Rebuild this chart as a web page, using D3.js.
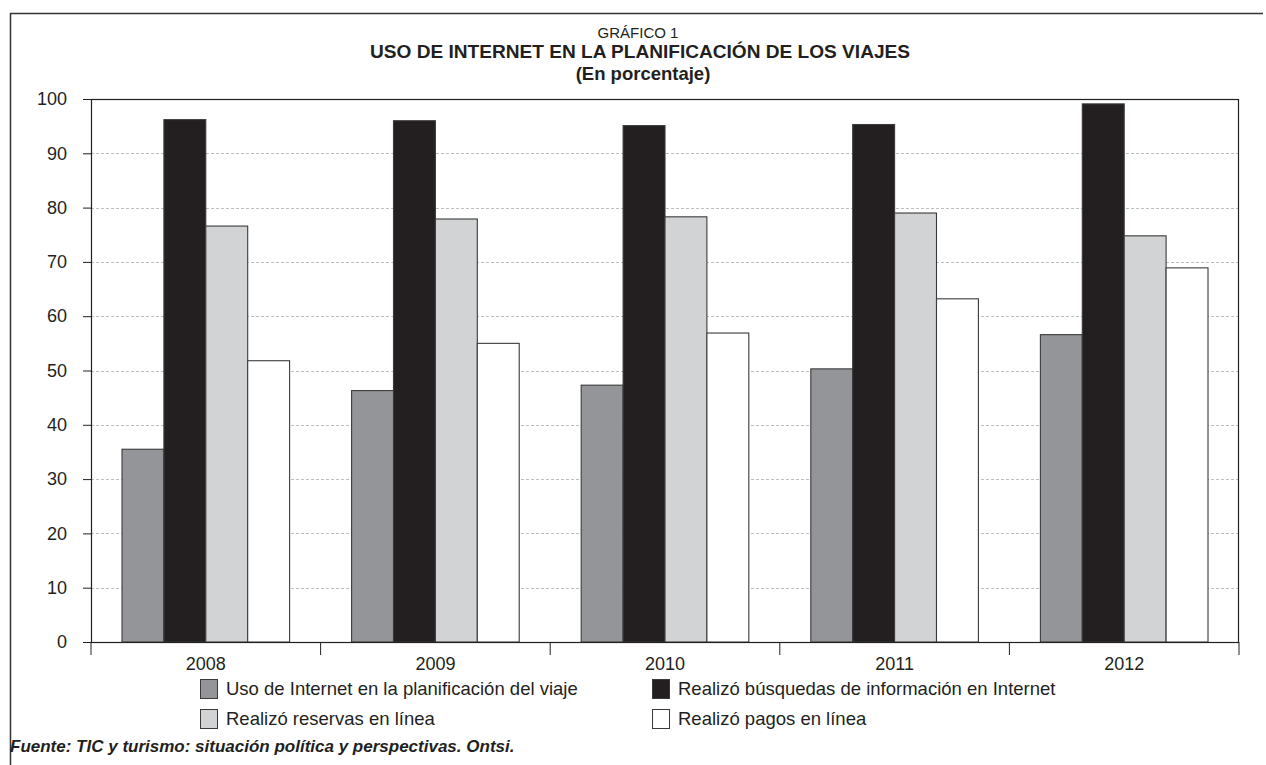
<!DOCTYPE html>
<html>
<head>
<meta charset="utf-8">
<script src="https://cdn.jsdelivr.net/npm/d3@7"></script>
<style>
  body { margin: 0; background: #fff; }
  svg { display: block; font-family: "Liberation Sans", Arial, sans-serif; }
</style>
</head>
<body>
<svg id="chart" width="1266" height="765"></svg>
<script>
const years = ['2008', '2009', '2010', '2011', '2012'];
const seriesNames = [
  'Uso de Internet en la planificación del viaje',
  'Realizó búsquedas de información en Internet',
  'Realizó reservas en línea',
  'Realizó pagos en línea'
];
const usoInternet = [35.5, 46.3, 47.3, 50.3, 56.6];
const busquedas = [96.2, 96.0, 95.1, 95.3, 99.1];
const reservas = [76.6, 77.9, 78.3, 79.0, 74.8];
const pagos = [51.8, 55.0, 56.9, 63.2, 68.9];
const yTicks = [0, 10, 20, 30, 40, 50, 60, 70, 80, 90, 100];
const fills = ['#939598', '#231f20', '#d1d3d4', '#ffffff'];

const allSeries = [usoInternet, busquedas, reservas, pagos];
const textColor = '#231f20';

const svg = d3.select('#chart');
const margin = { top: 99, left: 91, right: 1239, bottom: 642 };

// frame
svg.append('path')
  .attr('d', 'M10.5,765 V13.5 H1263')
  .attr('fill', 'none')
  .attr('stroke', '#333')
  .attr('stroke-width', 1.5);

// titles
svg.append('text').attr('x', 638).attr('y', 37.5).attr('text-anchor', 'middle')
  .attr('font-size', 15).attr('fill', textColor).text('GRÁFICO 1');
svg.append('text').attr('x', 640).attr('y', 58).attr('text-anchor', 'middle')
  .attr('font-size', 18).attr('font-weight', 'bold').attr('fill', textColor)
  .attr('textLength', 540).attr('lengthAdjust', 'spacingAndGlyphs')
  .text('USO DE INTERNET EN LA PLANIFICACIÓN DE LOS VIAJES');
svg.append('text').attr('x', 643).attr('y', 80).attr('text-anchor', 'middle')
  .attr('font-size', 18.5).attr('font-weight', 'bold').attr('fill', textColor)
  .text('(En porcentaje)');

const x = d3.scaleBand()
  .domain(years)
  .range([margin.left, margin.right])
  .paddingInner(0)
  .paddingOuter(0);
const xInner = d3.scaleBand()
  .domain(d3.range(allSeries.length))
  .range([x.bandwidth() * 0.135, x.bandwidth() * 0.865]);
const y = d3.scaleLinear().domain([0, 100]).range([margin.bottom, margin.top]);

// gridlines
svg.append('g')
  .selectAll('line')
  .data(yTicks.filter(d => d > 0 && d < 100))
  .join('line')
  .attr('x1', margin.left).attr('x2', margin.right)
  .attr('y1', d => Math.round(y(d)) + 0.5).attr('y2', d => Math.round(y(d)) + 0.5)
  .attr('stroke', '#bcbec0')
  .attr('stroke-width', 1)
  .attr('stroke-dasharray', '3,2');

// plot border
svg.append('rect')
  .attr('x', margin.left + 0.5).attr('y', margin.top + 0.5)
  .attr('width', margin.right - margin.left - 1).attr('height', margin.bottom - margin.top)
  .attr('fill', 'none').attr('stroke', '#231f20').attr('stroke-width', 1.2);

// bars
const groups = svg.append('g')
  .selectAll('g')
  .data(years)
  .join('g')
  .attr('transform', d => `translate(${x(d)},0)`);

groups.selectAll('rect')
  .data((d, i) => allSeries.map((s, k) => ({ k, v: s[i] })))
  .join('rect')
  .attr('x', d => xInner(d.k))
  .attr('y', d => y(d.v))
  .attr('width', xInner.bandwidth())
  .attr('height', d => y(0) - y(d.v))
  .attr('fill', d => fills[d.k])
  .attr('stroke', '#3a3a3a')
  .attr('stroke-width', 1.1);

// y axis
const yAxis = svg.append('g')
  .attr('transform', `translate(${margin.left},0)`)
  .call(d3.axisLeft(y).tickValues(yTicks).tickSize(8).tickPadding(16));
yAxis.select('.domain').attr('stroke', '#231f20');
yAxis.selectAll('.tick line').attr('stroke', '#231f20');
yAxis.selectAll('.tick text').attr('font-size', 18).attr('fill', textColor)
  .attr('font-family', '"Liberation Sans", Arial, sans-serif');

// x axis: ticks at band boundaries
const xAxis = svg.append('g')
  .attr('transform', `translate(0,${margin.bottom})`);
xAxis.append('line')
  .attr('x1', margin.left).attr('x2', margin.right)
  .attr('y1', 0.5).attr('y2', 0.5)
  .attr('stroke', '#231f20').attr('stroke-width', 1.2);
const bounds = years.map(d => x(d)).concat([margin.right]);
xAxis.selectAll('line.tk')
  .data(bounds)
  .join('line')
  .attr('class', 'tk')
  .attr('x1', d => d).attr('x2', d => d)
  .attr('y1', 0).attr('y2', 13)
  .attr('stroke', '#231f20');
xAxis.selectAll('text')
  .data(years)
  .join('text')
  .attr('x', d => x(d) + x.bandwidth() / 2)
  .attr('y', 28)
  .attr('text-anchor', 'middle')
  .attr('font-size', 18)
  .attr('fill', textColor)
  .text(d => d);

// legend
const legendPos = [
  { x: 200, y: 679 }, { x: 652, y: 679 },
  { x: 200, y: 709 }, { x: 652, y: 709 }
];
const legend = svg.append('g')
  .selectAll('g')
  .data(seriesNames)
  .join('g')
  .attr('transform', (d, i) => `translate(${legendPos[i].x},${legendPos[i].y})`);
legend.append('rect')
  .attr('x', 0.5).attr('y', 0.5)
  .attr('width', 17).attr('height', 19)
  .attr('fill', (d, i) => fills[i])
  .attr('stroke', '#3a3a3a').attr('stroke-width', 1);
legend.append('text')
  .attr('x', 26).attr('y', 16)
  .attr('font-size', 18.5)
  .attr('fill', textColor)
  .text(d => d);

// source
svg.append('text')
  .attr('x', 10).attr('y', 752)
  .attr('font-size', 17)
  .attr('font-weight', 'bold')
  .attr('font-style', 'italic')
  .attr('fill', textColor)
  .text('Fuente: TIC y turismo: situación política y perspectivas. Ontsi.');
</script>
</body>
</html>
